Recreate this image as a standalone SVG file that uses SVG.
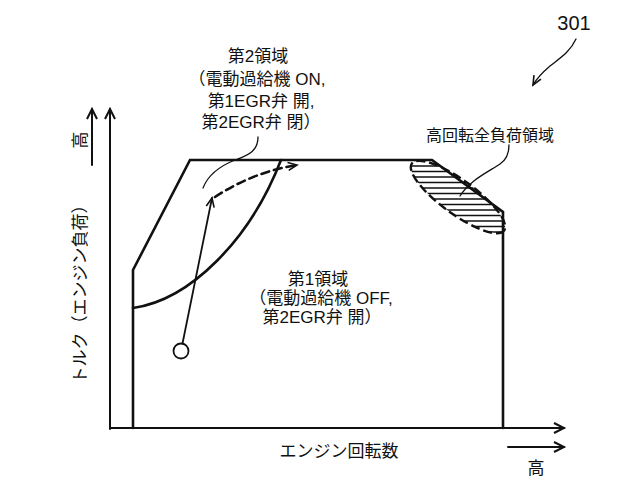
<svg xmlns="http://www.w3.org/2000/svg" width="640" height="482" viewBox="0 0 640 482">
<style>
text{font-family:"Liberation Sans","Noto Sans CJK JP",sans-serif;fill:#111}
.ln{fill:none;stroke:#111;stroke-linecap:round;stroke-linejoin:miter}
.ax{stroke-width:2}
.bd{stroke-width:2.6}
.thin{stroke-width:1.3}
</style>
<defs>
<marker id="ah" markerUnits="userSpaceOnUse" markerWidth="14" markerHeight="14" refX="11" refY="6" orient="auto" viewBox="0 0 14 12">
<path d="M1,1 L11,6 L1,11" fill="none" stroke="#111" stroke-width="2"/>
</marker>
<marker id="ahs" markerUnits="userSpaceOnUse" markerWidth="12" markerHeight="12" refX="10" refY="5" orient="auto" viewBox="0 0 12 10">
<path d="M1,1 L10,5 L1,9" fill="none" stroke="#111" stroke-width="1.6"/>
</marker>
<clipPath id="ec"><ellipse cx="458" cy="197" rx="57" ry="17" transform="rotate(36 458 197)"/></clipPath>
</defs>

<g id="axes">
<line class="ln ax" x1="110" y1="429" x2="110" y2="109" marker-end="url(#ah)"/>
<line class="ln ax" x1="110" y1="428" x2="564" y2="428" marker-end="url(#ah)"/>
<line class="ln ax" x1="92" y1="165" x2="92" y2="109" marker-end="url(#ah)"/>
<line class="ln ax" x1="508" y1="447" x2="564" y2="447" marker-end="url(#ah)"/>
</g>

<g id="boundary">
<polyline class="ln bd" points="133,428 133,270 190,160 432,160 503,212 503,428"/>
</g>

<g id="region2-boundary">
<path class="ln bd" d="M133,308 C190,300 250,240 281,160"/>
</g>

<g id="high-load-region">
<g clip-path="url(#ec)" stroke="#111" stroke-width="1.3">
<line x1="400" y1="155" x2="520" y2="155"/>
<line x1="400" y1="160.5" x2="520" y2="160.5"/>
<line x1="400" y1="166" x2="520" y2="166"/>
<line x1="400" y1="171.5" x2="520" y2="171.5"/>
<line x1="400" y1="177" x2="520" y2="177"/>
<line x1="400" y1="182.5" x2="520" y2="182.5"/>
<line x1="400" y1="188" x2="520" y2="188"/>
<line x1="400" y1="193.5" x2="520" y2="193.5"/>
<line x1="400" y1="199" x2="520" y2="199"/>
<line x1="400" y1="204.5" x2="520" y2="204.5"/>
<line x1="400" y1="210" x2="520" y2="210"/>
<line x1="400" y1="215.5" x2="520" y2="215.5"/>
<line x1="400" y1="221" x2="520" y2="221"/>
<line x1="400" y1="226.5" x2="520" y2="226.5"/>
<line x1="400" y1="232" x2="520" y2="232"/>
<line x1="400" y1="237.5" x2="520" y2="237.5"/>
</g>
<ellipse cx="458" cy="197" rx="57" ry="17" transform="rotate(36 458 197)" fill="none" stroke="#111" stroke-width="2.4" stroke-dasharray="9 4"/>
</g>

<g id="connectors">
<circle cx="181" cy="351" r="7.5" fill="#fff" stroke="#111" stroke-width="1.8"/>
<line class="ln" stroke-width="1.8" x1="182.5" y1="343.5" x2="212" y2="198" marker-end="url(#ahs)"/>
<path class="ln" stroke-width="2.6" stroke-dasharray="8 5" d="M215,197 Q253,172 297,165" marker-end="url(#ahs)"/>
<path class="ln thin" d="M258,137 C258,150 250,155 235,160 C220,166 208,175 203,188"/>
<path class="ln thin" d="M509,145 C509,155 506,160 500,164 C488,172 470,180 460,196"/>
<path class="ln thin" d="M576,39 C570,52 560,58 550,66 C543,72 537,78 533,85" marker-end="url(#ahs)"/>
</g>

<g id="labels">
<text x="258" y="62" font-size="17" text-anchor="middle">第2領域</text>
<text x="257" y="85" font-size="17" text-anchor="middle">（電動過給機 ON,</text>
<text x="261" y="107" font-size="17" text-anchor="middle">第1EGR弁 開,</text>
<text x="261" y="128" font-size="17" text-anchor="middle">第2EGR弁 閉）</text>
<text x="318" y="285" font-size="17" text-anchor="middle">第1領域</text>
<text x="321" y="304" font-size="17" text-anchor="middle">（電動過給機 OFF,</text>
<text x="322" y="323" font-size="17" text-anchor="middle">第2EGR弁 開）</text>
<text x="490" y="141" font-size="16" text-anchor="middle">高回転全負荷領域</text>
<text x="574" y="30" font-size="20" text-anchor="middle">301</text>
<text x="339" y="457" font-size="17" text-anchor="middle">エンジン回転数</text>
<text x="536" y="474" font-size="17" text-anchor="middle">高</text>
<text transform="translate(80 290) rotate(-90)" font-size="17" text-anchor="middle" dominant-baseline="central">トルク（エンジン負荷）</text>
<text transform="translate(80 140) rotate(-90)" font-size="17" text-anchor="middle" dominant-baseline="central">高</text>
</g>
</svg>
